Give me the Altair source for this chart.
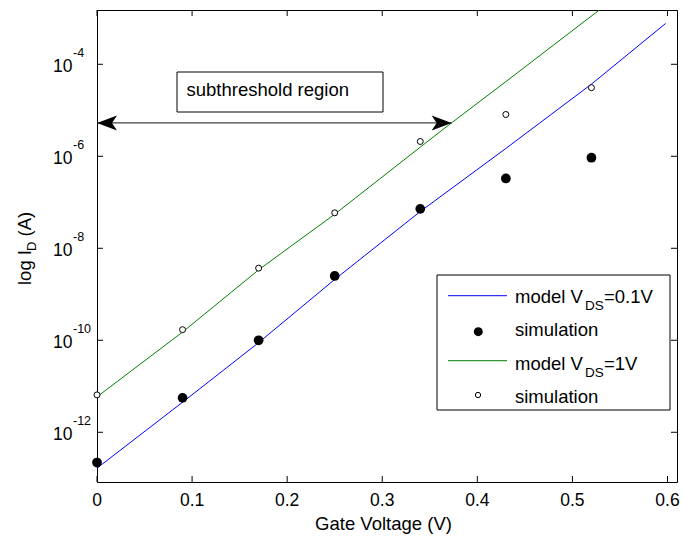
import altair as alt
import pandas as pd

# ---------------- data ----------------
vg_model_01 = [0.0, 0.09, 0.17, 0.25, 0.34, 0.43, 0.52, 0.598]
id_model_01 = [1.66e-13, 4.5e-12, 8.9e-11, 2.1e-9, 6.3e-8, 1.48e-6, 3.7e-5, 7.7e-4]

vg_model_1 = [0.0, 0.09, 0.17, 0.25, 0.34, 0.37, 0.43, 0.528]
id_model_1 = [5.9e-12, 1.51e-10, 3.4e-9, 5.5e-8, 1.58e-6, 4.8e-6, 4.2e-5, 1.5e-3]

vg_sim = [0.0, 0.09, 0.17, 0.25, 0.34, 0.43, 0.52]
id_sim_01 = [2.2e-13, 5.6e-12, 1.0e-10, 2.5e-9, 7.2e-8, 3.3e-7, 9.3e-7]
id_sim_1 = [6.5e-12, 1.7e-10, 3.7e-9, 5.9e-8, 2.1e-6, 8.1e-6, 3.1e-5]

x_ticks = [0.0, 0.1, 0.2, 0.3, 0.4, 0.5, 0.6]
x_tick_labels = ["0", "0.1", "0.2", "0.3", "0.4", "0.5", "0.6"]
y_ticks = [1e-12, 1e-10, 1e-8, 1e-6, 1e-4]
y_tick_exps = ["-12", "-10", "-8", "-6", "-4"]

arrow_x = [0.0, 0.373]
arrow_y = 5.3e-6

# ---------------- layout ----------------
W, H = 580, 472
FONT = "Liberation Sans"
FS = 18.5
FT = 17.5

xs = alt.Scale(domain=[0, 0.61], nice=False, zero=False)
ys = alt.Scale(type="log", domain=[8.3e-14, 1.514e-3], nice=False)


def X(f="x"):
    return alt.X(f"{f}:Q", scale=xs, axis=None)


def Y(f="y"):
    return alt.Y(f"{f}:Q", scale=ys, axis=None)


one = pd.DataFrame({"d": [0]})


def label(text, x, y, size=FS, angle=0, align="left"):
    return alt.Chart(one).mark_text(
        text=text, font=FONT, fontSize=size, align=align, baseline="alphabetic",
        color="black", angle=angle
    ).encode(x=alt.value(x), y=alt.value(y))


df01 = pd.DataFrame({"x": vg_model_01, "y": id_model_01})
df1 = pd.DataFrame({"x": vg_model_1, "y": id_model_1})
dsim01 = pd.DataFrame({"x": vg_sim, "y": id_sim_01})
dsim1 = pd.DataFrame({"x": vg_sim, "y": id_sim_1})
dxt = pd.DataFrame({"x": x_ticks, "lab": x_tick_labels})
dyt = pd.DataFrame({"y": y_ticks, "e": y_tick_exps})
darrow = pd.DataFrame({"x": [arrow_x[0]], "x2": [arrow_x[1]], "y": [arrow_y]})

layers = []

# model lines
layers.append(alt.Chart(df01).mark_line(color="#0000ff", strokeWidth=1, clip=True).encode(x=X(), y=Y()))
layers.append(alt.Chart(df1).mark_line(color="#008000", strokeWidth=1, clip=True).encode(x=X(), y=Y()))

# simulation points
layers.append(alt.Chart(dsim01).mark_circle(color="black", size=95, opacity=1).encode(x=X(), y=Y()))
layers.append(alt.Chart(dsim1).mark_point(shape="circle", filled=True, color="white", stroke="black",
                                         strokeWidth=1, size=36, opacity=1).encode(x=X(), y=Y()))

# inward ticks (MATLAB style box)
layers.append(alt.Chart(dxt).mark_rule(color="black", strokeWidth=1).encode(x=X(), y=alt.value(H), y2=alt.value(H - 6)))
layers.append(alt.Chart(dxt).mark_rule(color="black", strokeWidth=1).encode(x=X(), y=alt.value(0), y2=alt.value(6)))
layers.append(alt.Chart(dyt).mark_rule(color="black", strokeWidth=1).encode(y=Y(), x=alt.value(0), x2=alt.value(6)))
layers.append(alt.Chart(dyt).mark_rule(color="black", strokeWidth=1).encode(y=Y(), x=alt.value(W - 6), x2=alt.value(W)))

# tick labels
layers.append(alt.Chart(dxt).mark_text(font=FONT, fontSize=FT, align="center", baseline="alphabetic", color="black")
              .encode(x=X(), y=alt.value(H + 24), text="lab:N"))
layers.append(alt.Chart(dyt).mark_text(text="10", font=FONT, fontSize=FT, align="left", baseline="alphabetic",
                                       color="black", dy=8)
              .encode(y=Y(), x=alt.value(-44)))
layers.append(alt.Chart(dyt).mark_text(font=FONT, fontSize=12.5, align="left", baseline="alphabetic",
                                       color="black", dy=-7)
              .encode(y=Y(), x=alt.value(-24), text="e:N"))

# axis titles
layers.append(label("Gate Voltage (V)", 286.5, 520, align="center"))
layers.append(label("log I", -66, 275, angle=270))
layers.append(label("D", -61, 241, size=13, angle=270))
layers.append(label("(A)", -66, 226.5, angle=270))

# subthreshold annotation
layers.append(alt.Chart(one).mark_rect(fill="white", stroke="black", strokeWidth=1)
              .encode(x=alt.value(80), x2=alt.value(286), y=alt.value(62), y2=alt.value(102)))
layers.append(label("subthreshold region", 89.5, 86))
layers.append(alt.Chart(darrow).mark_rule(color="#404040", strokeWidth=1.2)
              .encode(x=X(), x2="x2:Q", y=Y()))
layers.append(alt.Chart(darrow).mark_point(shape="M0,0 L2,-0.75 L1.5,0 L2,0.75 Z", size=400, filled=True,
                                          color="black", opacity=1, strokeWidth=0)
              .encode(x=X(), y=Y()))
layers.append(alt.Chart(darrow).mark_point(shape="M0,0 L-2,-0.75 L-1.5,0 L-2,0.75 Z", size=400, filled=True,
                                          color="black", opacity=1, strokeWidth=0)
              .encode(x=X("x2"), y=Y()))

# legend
layers.append(alt.Chart(one).mark_rect(fill="white", stroke="black", strokeWidth=1)
              .encode(x=alt.value(340), x2=alt.value(573), y=alt.value(265), y2=alt.value(400)))
layers.append(alt.Chart(one).mark_rule(color="#0000ff", strokeWidth=1)
              .encode(x=alt.value(351), x2=alt.value(410), y=alt.value(285.7)))
layers.append(alt.Chart(one).mark_circle(color="black", size=80, opacity=1)
              .encode(x=alt.value(381.3), y=alt.value(321.7)))
layers.append(alt.Chart(one).mark_rule(color="#008000", strokeWidth=1)
              .encode(x=alt.value(351), x2=alt.value(410), y=alt.value(350.7)))
layers.append(alt.Chart(one).mark_point(shape="circle", filled=True, color="white", stroke="black",
                                       strokeWidth=1, size=28, opacity=1)
              .encode(x=alt.value(381), y=alt.value(385)))
layers.append(label("model V", 418, 293))
layers.append(label("DS", 488, 300, size=13.5))
layers.append(label("=0.1V", 507, 293))
layers.append(label("simulation", 418, 326))
layers.append(label("model V", 418, 360))
layers.append(label("DS", 488, 367, size=13.5))
layers.append(label("=1V", 507, 360))
layers.append(label("simulation", 418, 393))

chart = (
    alt.layer(*layers)
    .properties(
        width=W, height=H,
        autosize=alt.AutoSizeParams(type="none"),
        padding={"left": 97, "top": 10, "right": 5, "bottom": 56},
        background="white",
    )
    .configure_view(stroke="black", strokeWidth=1)
)

chart.save("out.html", embed_options={"renderer": "svg", "actions": False})
